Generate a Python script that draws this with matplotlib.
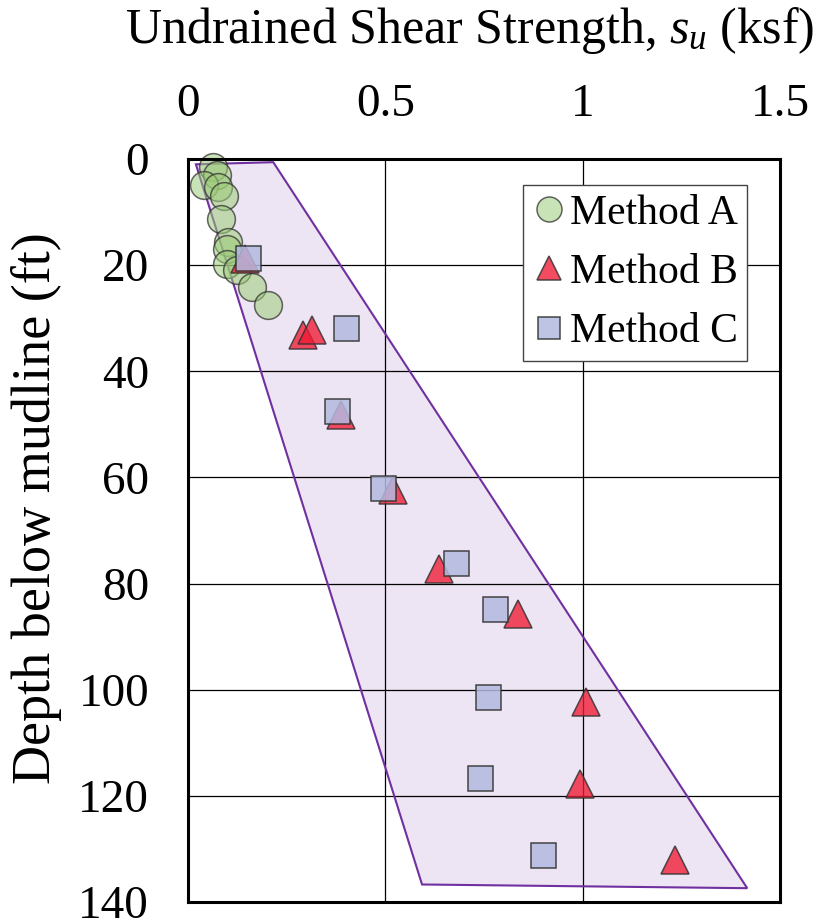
import matplotlib
matplotlib.use('Agg')
import matplotlib.pyplot as plt
import numpy as np

plt.rcParams['font.family'] = ['Liberation Serif', 'DejaVu Serif']
plt.rcParams['mathtext.fontset'] = 'custom'
plt.rcParams['mathtext.rm'] = 'Liberation Serif'
plt.rcParams['mathtext.it'] = 'Liberation Serif:italic'

# Method A (su in ksf, depth in ft)
su_a = [0.064, 0.073, 0.041, 0.077, 0.090, 0.084, 0.102, 0.100, 0.098, 0.123, 0.161, 0.202]
depth_a = [1.6, 3.1, 4.9, 5.2, 6.9, 11.3, 15.7, 17.0, 19.7, 20.9, 24.1, 27.5]

# Method B
su_b = [0.145, 0.292, 0.314, 0.388, 0.519, 0.636, 0.835, 1.009, 0.994, 1.233]
depth_b = [18.9, 33.1, 32.2, 48.3, 62.4, 77.3, 85.7, 102.4, 117.8, 132.1]

# Method C
su_c = [0.151, 0.401, 0.377, 0.494, 0.680, 0.778, 0.759, 0.739, 0.900]
depth_c = [18.6, 31.9, 47.4, 61.9, 76.1, 84.7, 101.3, 116.7, 131.1]

# envelope polygon corners
env_su = [0.020, 0.216, 1.417, 0.593]
env_depth = [1.0, 0.6, 137.4, 136.7]

xticks = [0, 0.5, 1, 1.5]
xtick_labels = ['0', '0.5', '1', '1.5']
yticks = [0, 20, 40, 60, 80, 100, 120, 140]

fig = plt.figure(figsize=(8.24, 9.24), dpi=100)
ax = fig.add_axes([188 / 824, 1 - 902 / 924, 592 / 824, 743 / 924])

ax.fill(env_su, env_depth, facecolor='#7030A0', alpha=0.12, zorder=1)
ax.fill(env_su, env_depth, facecolor='none', edgecolor='#7030A0', lw=1.5, zorder=3)

ax.plot(su_a, depth_a, 'o', ms=20, mfc=(0.61, 0.80, 0.47, 0.55), mec=(0.2, 0.2, 0.2, 0.75),
        mew=1.1, ls='none', label='Method A', zorder=4, clip_on=False)
ax.plot(su_b, depth_b, '^', ms=19.5, mfc=(0.94, 0.10, 0.20, 0.78), mec=(0.2, 0.2, 0.2, 0.85),
        mew=1.1, ls='none', label='Method B', zorder=5, clip_on=False)
ax.plot(su_c, depth_c, 's', ms=18, mfc=(0.70, 0.73, 0.88, 0.85), mec=(0.2, 0.2, 0.2, 0.9),
        mew=1.1, ls='none', label='Method C', zorder=6, clip_on=False)

ax.set_xlim(0, 1.5)
ax.set_ylim(140, 0)
ax.set_xticks(xticks)
ax.set_xticklabels(xtick_labels)
ax.set_yticks(yticks)
ax.xaxis.tick_top()
ax.tick_params(axis='x', length=0, pad=24, labelsize=34)
ax.tick_params(axis='y', length=0, pad=28, labelsize=34)
ax.grid(True, color='black', lw=0.9, zorder=2)
ax.set_axisbelow(False)
for sp in ax.spines.values():
    sp.set_linewidth(2.2)
    sp.set_color('black')
    sp.set_zorder(7)

leg = ax.legend(loc='upper right', bbox_to_anchor=(0.9448, 0.965), borderaxespad=0,
                fontsize=30, frameon=True, fancybox=False, framealpha=1,
                edgecolor='#444444', handlelength=0.8, handletextpad=0.12,
                borderpad=0.22, labelspacing=0.5, markerscale=0.9, numpoints=1)
leg.get_frame().set_linewidth(1.0)
leg.set_zorder(8)

fig.text(470 / 824, 1 - 43 / 924, 'Undrained Shear Strength, $s_u$ (ksf)',
         ha='center', va='baseline', fontsize=36)
fig.text(50 / 824, 1 - 508 / 924, 'Depth below mudline (ft)', rotation=90,
         rotation_mode='anchor', ha='center', va='baseline', fontsize=39)

fig.savefig('out.png', dpi=100)
